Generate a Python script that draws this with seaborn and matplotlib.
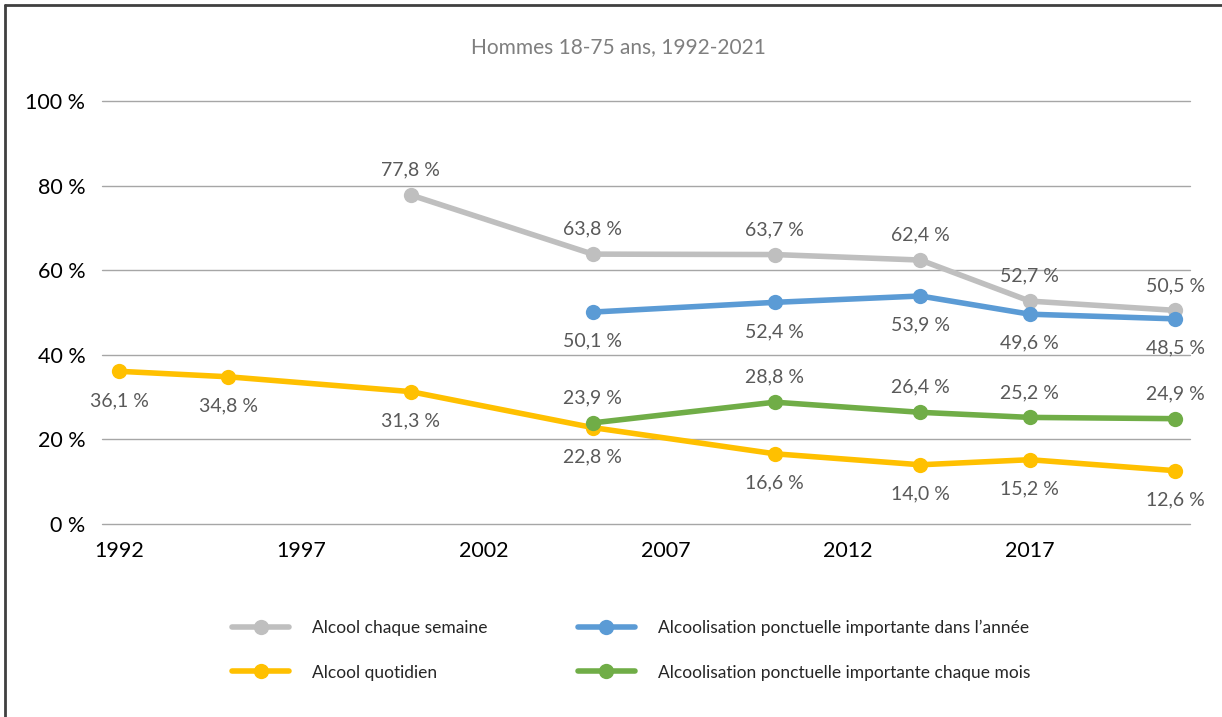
import matplotlib
matplotlib.use("Agg")
import matplotlib.pyplot as plt
import pandas as pd
import seaborn as sns
from matplotlib.lines import Line2D

# Données (Hommes 18-75 ans)
annees_semaine = [2000, 2005, 2010, 2014, 2017, 2021]
alcool_semaine = [77.8, 63.8, 63.7, 62.4, 52.7, 50.5]

annees_api_annee = [2005, 2010, 2014, 2017, 2021]
api_annee = [50.1, 52.4, 53.9, 49.6, 48.5]

annees_quotidien = [1992, 1995, 2000, 2005, 2010, 2014, 2017, 2021]
alcool_quotidien = [36.1, 34.8, 31.3, 22.8, 16.6, 14.0, 15.2, 12.6]

annees_api_mois = [2005, 2010, 2014, 2017, 2021]
api_mois = [23.9, 28.8, 26.4, 25.2, 24.9]

series = ["Alcool chaque semaine",
          "Alcoolisation ponctuelle importante dans l\u2019année",
          "Alcool quotidien",
          "Alcoolisation ponctuelle importante chaque mois"]
couleurs = ["#BFBFBF", "#5B9BD5", "#FFC000", "#70AD47"]
# position de l'étiquette : 1 = au-dessus, -1 = en dessous
position_etiquette = [1, -1, -1, 1]

x_ticks = [1992, 1997, 2002, 2007, 2012, 2017]
y_ticks = [0, 20, 40, 60, 80, 100]

donnees = [(annees_semaine, alcool_semaine),
           (annees_api_annee, api_annee),
           (annees_quotidien, alcool_quotidien),
           (annees_api_mois, api_mois)]

lignes = []
for nom, (ans, vals) in zip(series, donnees):
    for a, v in zip(ans, vals):
        lignes.append({"annee": a, "valeur": v, "serie": nom})
df = pd.DataFrame(lignes)

sns.set_style("white")
plt.rcParams["font.family"] = ["Lato", "DejaVu Sans"]

fig = plt.figure(figsize=(12.22, 7.17), dpi=100)
ax = fig.add_axes([102 / 1222, 1 - 524 / 717, (1190 - 102) / 1222, (524 - 101) / 717])

sns.lineplot(data=df, x="annee", y="valeur", hue="serie", hue_order=series,
             palette=couleurs, marker="o", markersize=11, markeredgewidth=0,
             linewidth=4, ax=ax, legend=False, solid_capstyle="round")

for nom, (ans, vals), pos in zip(series, donnees, position_etiquette):
    for a, v in zip(ans, vals):
        txt = f"{v:.1f}".replace(".", ",") + " %"
        ax.annotate(txt, (a, v), textcoords="offset points",
                    xytext=(0, 18 if pos > 0 else -21), ha="center", va="center",
                    fontsize=14, color="#595959")

ax.set_xlim(1991.53, 2021.4)
ax.set_ylim(0, 100)
ax.set_xticks(x_ticks)
ax.set_xticklabels([str(x) for x in x_ticks])
ax.set_yticks(y_ticks)
ax.set_yticklabels([f"{y} %" for y in y_ticks])
ax.grid(False)
for y in y_ticks:
    ax.axhline(y, color="#A6A6A6", linewidth=1, zorder=0, clip_on=False)
for s in ax.spines.values():
    s.set_visible(False)
ax.tick_params(axis="both", length=0, labelsize=15.5, colors="black")
ax.tick_params(axis="x", pad=12)
ax.tick_params(axis="y", pad=12)
ax.set_xlabel("")
ax.set_ylabel("")

fig.text(618 / 1222, 1 - 47 / 717, "Hommes 18-75 ans, 1992-2021", ha="center",
         va="center", fontsize=15, color="#7F7F7F")

# légende sur deux colonnes, rangée par rangée comme dans l'original
ordre = [0, 2, 1, 3]
handles = [Line2D([], [], color=couleurs[i], linewidth=4, marker="o", markersize=11,
                  markeredgewidth=0, solid_capstyle="round") for i in ordre]
fig.legend(handles, [series[i] for i in ordre], loc="center",
           bbox_to_anchor=(631 / 1222, 1 - 650 / 717), ncol=2, frameon=False,
           fontsize=12.5, handlelength=3.3, handletextpad=1.3, columnspacing=5.2,
           labelspacing=1.65)

# cadre (haut et gauche visibles)
fig.add_artist(Line2D([4.5 / 1222, 1.0], [1 - 5 / 717, 1 - 5 / 717], color="#404040",
                      linewidth=2, transform=fig.transFigure))
fig.add_artist(Line2D([4.5 / 1222, 4.5 / 1222], [0, 1 - 5 / 717], color="#404040",
                      linewidth=2, transform=fig.transFigure))

fig.savefig("out.png", dpi=100)
